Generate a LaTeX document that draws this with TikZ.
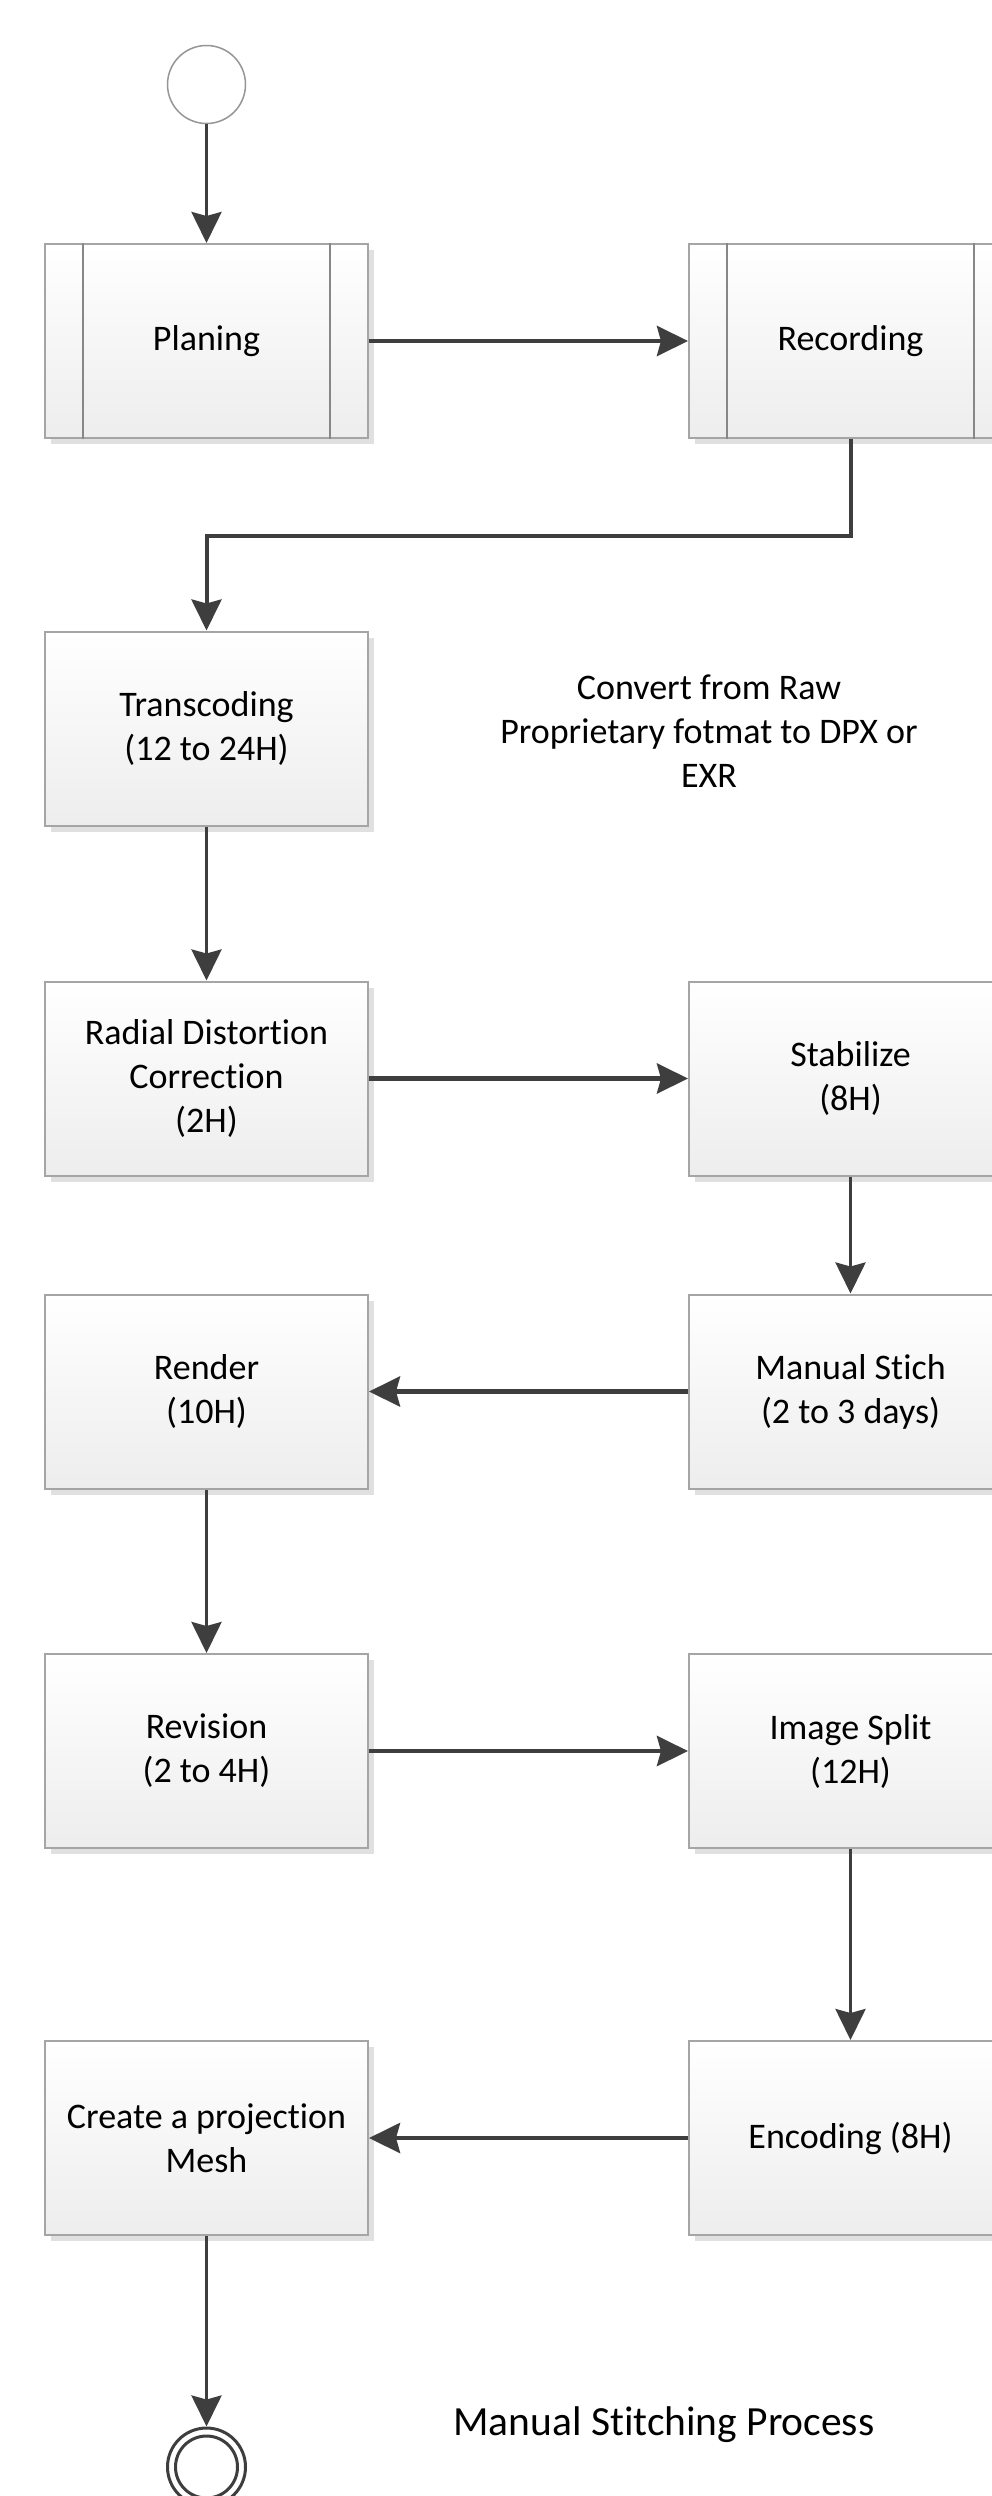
\documentclass[tikz,border=0pt]{standalone}
\usepackage{fontspec}
\setmainfont{Carlito}[Ligatures={NoCommon,NoContextual}]
\usetikzlibrary{arrows.meta,shadows}
\definecolor{boxgray}{RGB}{165,165,165}
\definecolor{stripegray}{RGB}{135,135,135}
\definecolor{linegray}{RGB}{62,62,62}
\definecolor{circgray}{RGB}{150,150,150}
\begin{document}
\begin{tikzpicture}[x=1pt,y=-1pt,
  box/.style={rectangle, draw=boxgray, line width=2pt, top color=white, bottom color=black!7,
    minimum width=323pt, minimum height=194pt, align=center, inner sep=0pt,
    font=\fontsize{36}{44}\selectfont, text=black,
    drop shadow={shadow xshift=6pt, shadow yshift=-6pt, fill=black, opacity=0.12}},
  stripe/.style={draw=stripegray, line width=1.5pt},
  vflow/.style={draw=linegray, line width=3.5pt, -{Stealth[length=31pt,width=30pt,inset=4pt]}},
  hflow/.style={draw=linegray, line width=4.5pt, -{Stealth[length=31pt,width=30pt,inset=4pt]}},
  startev/.style={circle, draw=circgray, line width=1.5pt, fill=white, minimum size=78pt, inner sep=0pt},
  endev/.style={circle, draw=linegray, line width=3pt, fill=white, minimum size=78pt, inner sep=0pt},
  plain/.style={align=center, font=\fontsize{36}{44}\selectfont, text=black, inner sep=0pt}
]
\useasboundingbox (0,0) rectangle (992,2496);
\fill[white] (0,0) rectangle (992,2496);

\node[startev] (start) at (206.5,84.5) {};

\node[box] (plan) at (206.5,341) {Planing};
\node[box] (rec) at (850.5,341) {Recording};
\draw[stripe] ([xshift=39pt]plan.north west) -- ([xshift=39pt]plan.south west);
\draw[stripe] ([xshift=-39pt]plan.north east) -- ([xshift=-39pt]plan.south east);
\draw[stripe] ([xshift=39pt]rec.north west) -- ([xshift=39pt]rec.south west);
\draw[stripe] ([xshift=-39pt]rec.north east) -- ([xshift=-39pt]rec.south east);

\node[box] (trans) at (206.5,728.5) {Transcoding\\(12 to 24H)};
\node[plain] (note) at (709,731) {Convert from Raw\\Proprietary fotmat to DPX or\\EXR};

\node[box] (radial) at (206.5,1078.5) {Radial Distortion\\Correction\\(2H)};
\node[box] (stab) at (850.5,1078.5) {Stabilize\\(8H)};

\node[box] (render) at (206.5,1391.5) {Render\\(10H)};
\node[box] (stich) at (850.5,1391.5) {Manual Stich\\(2 to 3 days)};

\node[box] (rev) at (206.5,1751) {Revision\\(2 to 4H)};
\node[box] (split) at (850.5,1751) {Image Split\\(12H)};

\node[box] (mesh) at (206.5,2138) {Create a projection\\Mesh};
\node[box] (enc) at (850.5,2138) {Encoding (8H)};

\node[endev] (end) at (206.5,2467) {};
\draw[draw=linegray, line width=3pt] (end.center) circle (31pt);

\node[plain, font=\fontsize{41.5}{50}\selectfont, text=black] (title) at (664,2425) {Manual Stitching Process};

\draw[vflow] (start) -- (plan);
\draw[hflow] (plan) -- (rec);
\draw[hflow, line width=4pt] (rec.south) -- ++(0,97) -| (trans.north);
\draw[vflow] (trans) -- (radial);
\draw[hflow] (radial) -- (stab);
\draw[vflow] (stab) -- (stich);
\draw[hflow] (stich) -- (render);
\draw[vflow] (render) -- (rev);
\draw[hflow] (rev) -- (split);
\draw[vflow] (split) -- (enc);
\draw[hflow] (enc) -- (mesh);
\draw[vflow] (mesh) -- (end);
\end{tikzpicture}
\end{document}
